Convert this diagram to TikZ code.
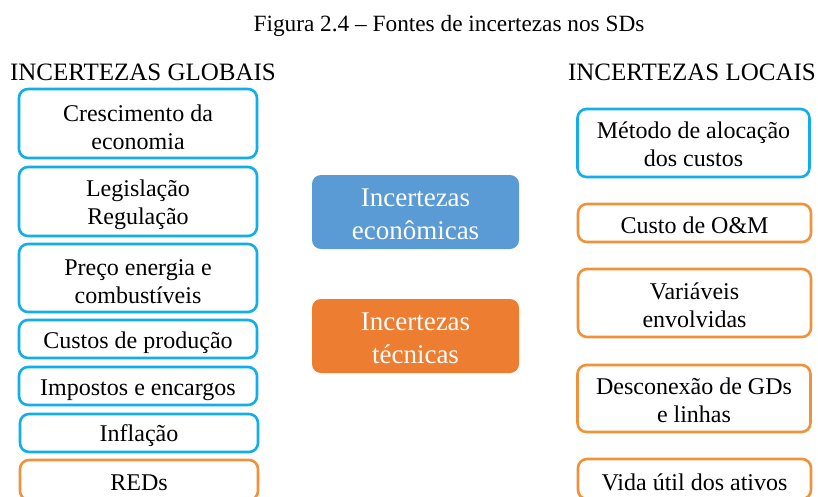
\documentclass[tikz,border=0pt]{standalone}
\usepackage{fontspec}
\setmainfont{Liberation Serif}
\definecolor{bline}{HTML}{12AEEC}
\definecolor{oline}{HTML}{F0923A}
\definecolor{bfill}{HTML}{5B9BD5}
\definecolor{ofill}{HTML}{ED7D31}
\tikzset{
  txt/.style={font=\fontsize{24}{28}\selectfont, align=center, inner sep=0pt},
  gbox/.style={draw=bline, line width=2.6pt, rounded corners=9pt, minimum width=#1, inner sep=0pt},
  obox/.style={draw=oline, line width=2.6pt, rounded corners=9pt, minimum width=#1, inner sep=0pt},
  cbox/.style={inner sep=0pt, rounded corners=9pt, minimum width=207pt, minimum height=74pt},
  ctxt/.style={font=\fontsize{27}{33}\selectfont, align=center, inner sep=0pt, text=white},
}
\begin{document}
\begin{tikzpicture}[x=1pt,y=-1pt]
\useasboundingbox (0,0) rectangle (818,496);
\clip (0,0) rectangle (818,496);
\fill[white] (0,0) rectangle (818,496);
\node[txt, font=\fontsize{23.3}{28}\selectfont] (title) at (449,26) {Figura 2.4 -- Fontes de incertezas nos SDs};
\node[txt, font=\fontsize{25}{28}\selectfont] (hg) at (143,72) {INCERTEZAS GLOBAIS};
\node[txt, font=\fontsize{25}{28}\selectfont] (hl) at (692,72) {INCERTEZAS LOCAIS};
% left column
\node[gbox=238pt, minimum height=69pt] (g1) at (138,123.5) {};
\node[gbox=238pt, minimum height=69pt] (g2) at (138,201.5) {};
\node[gbox=238pt, minimum height=68pt] (g3) at (138,278) {};
\node[gbox=238pt, minimum height=38pt] (g4) at (138,339) {};
\node[gbox=238pt, minimum height=38pt] (g5) at (138,386) {};
\node[gbox=238pt, minimum height=38pt] (g6) at (139,433) {};
\node[obox=238pt, minimum height=40pt] (g7) at (139,480) {};
\node[txt] (g1t) at ([yshift=-3.5pt]g1.center) {Crescimento da\\economia};
\node[txt] (g2t) at ([yshift=-3.5pt]g2.center) {Legislação\\Regulação};
\node[txt] (g3t) at ([yshift=-3.5pt]g3.center) {Preço energia e\\combustíveis};
\node[txt] (g4t) at ([yshift=-4pt]g4.center) {Custos de produção};
\node[txt] (g5t) at ([yshift=-4pt]g5.center) {Impostos e encargos};
\node[txt] (g6t) at ([yshift=-3pt]g6.center) {Inflação};
\node[txt] (g7t) at ([yshift=-3pt]g7.center) {REDs};
% centre
\node[cbox, fill=bfill] (ce) at (415.5,212) {};
\node[cbox, fill=ofill] (ct) at (415.5,336) {};
\node[ctxt] (cet) at ([yshift=-2pt]ce.center) {Incertezas\\econômicas};
\node[ctxt] (ctt) at ([yshift=-2pt]ct.center) {Incertezas\\técnicas};
% right column
\node[gbox=232pt, minimum height=68pt] (l1) at (693.5,143) {};
\node[obox=233pt, minimum height=38pt] (l2) at (694.5,223) {};
\node[obox=233pt, minimum height=68pt] (l3) at (694.5,303) {};
\node[obox=233pt, minimum height=67pt] (l4) at (694,398.5) {};
\node[obox=233pt, minimum height=40pt] (l5) at (694.5,479) {};
\node[txt] (l1t) at ([yshift=-1.5pt]l1.center) {Método de alocação\\dos custos};
\node[txt] (l2t) at ([yshift=-2.5pt]l2.center) {Custo de O\&M};
\node[txt] (l3t) at ([yshift=-2pt]l3.center) {Variáveis\\envolvidas};
\node[txt] (l4t) at ([yshift=-2pt]l4.center) {Desconexão de GDs\\e linhas};
\node[txt] (l5t) at ([yshift=-3pt]l5.center) {Vida útil dos ativos};
\end{tikzpicture}
\end{document}
